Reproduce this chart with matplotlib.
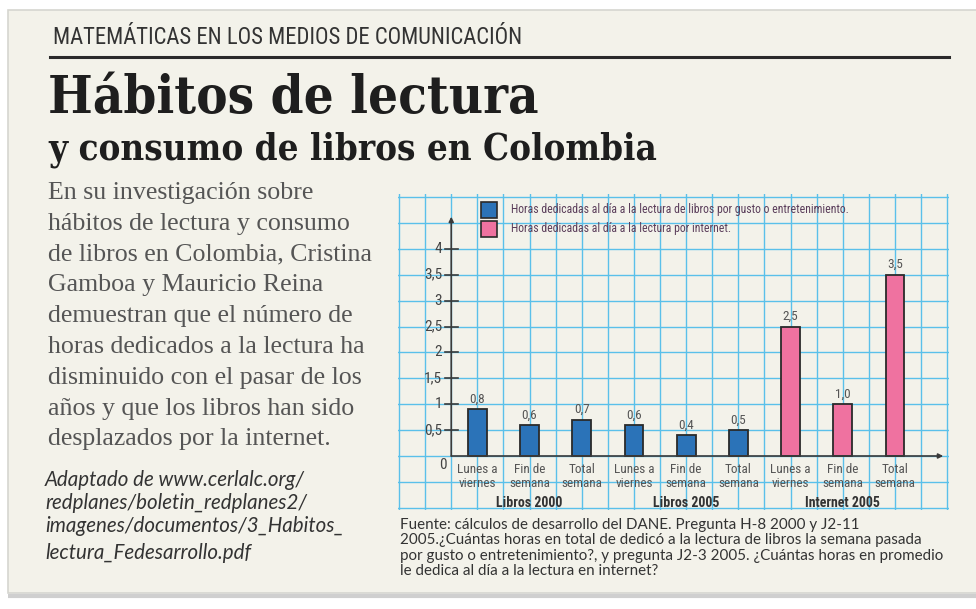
import matplotlib
matplotlib.use("Agg")
import matplotlib.pyplot as plt
from matplotlib import font_manager
from matplotlib.patches import Rectangle

# datos del grafico
categorias = ["Lunes a\nviernes", "Fin de\nsemana", "Total\nsemana"] * 3
grupos = ["Libros 2000", "Libros 2005", "Internet 2005"]
horas = [0.9, 0.6, 0.7, 0.6, 0.4, 0.5, 2.5, 1.0, 3.5]   # altura dibujada
etiquetas = ["0,8", "0,6", "0,7", "0,6", "0,4", "0,5", "2,5", "1,0", "3,5"]
serie = ["libros"] * 6 + ["internet"] * 3
yticks = [0.5, 1, 1.5, 2, 2.5, 3, 3.5, 4]
ytick_labels = ["0,5", "1", "1,5", "2", "2,5", "3", "3,5", "4"]
leyenda = ["Horas dedicadas al día a la lectura de libros por gusto o entretenimiento.",
           "Horas dedicadas al día a la lectura por internet."]

colores = {"libros": "#2b73b8", "internet": "#ef72a0"}
beige = "#f3f2ea"
azul_grid = "#5ac0ea"

nombres = {f.name for f in font_manager.fontManager.ttflist}
narrow = next((n for n in ["Liberation Sans Narrow", "Roboto Condensed", "Open Sans Condensed"]
               if n in nombres), None)
if narrow:
    fn = dict(family=narrow)
else:
    fn = dict(family="DejaVu Sans", fontstretch="condensed")
sans = "Lato" if "Lato" in nombres else "DejaVu Sans"

fig = plt.figure(figsize=(9.76, 6.09), dpi=100)
fig.patch.set_facecolor("white")

# pagina (coordenadas en pixeles)
page = fig.add_axes([0, 0, 1, 1])
page.set_xlim(0, 976)
page.set_ylim(609, 0)
page.axis("off")
page.add_patch(Rectangle((8, 10), 980, 583, facecolor=beige, edgecolor="#d6d6d0", lw=1.2))
page.plot([8, 976], [596, 596], color="#cfcfcf", lw=3, solid_capstyle="butt")

page.text(53, 37, "MATEMÁTICAS EN LOS MEDIOS DE COMUNICACIÓN", fontsize=16.3, color="#333333",
          va="center", ha="left", **fn)
page.plot([50, 949], [57, 57], color="#2a2a2a", lw=2.2)
page.text(48, 113, "Hábitos de lectura", fontsize=37.8, fontweight="bold", color="#1e1e1e",
          family="DejaVu Serif", fontstretch="condensed", va="baseline")
page.text(48, 159, "y consumo de libros en Colombia", fontsize=26.3, fontweight="bold",
          color="#1e1e1e", family="DejaVu Serif", fontstretch="condensed", va="baseline")

cuerpo = ["En su investigación sobre",
          "hábitos de lectura y consumo",
          "de libros en Colombia, Cristina",
          "Gamboa y Mauricio Reina",
          "demuestran que el número de",
          "horas dedicados a la lectura ha",
          "disminuido con el pasar de los",
          "años y que los libros han sido",
          "desplazados por la internet."]
for i, linea in enumerate(cuerpo):
    page.text(48, 193 + i * 30.8, linea, fontsize=18.6, color="#555555",
              family="Liberation Serif", va="center")

fuente_web = ["Adaptado de www.cerlalc.org/", "redplanes/boletin_redplanes2/",
              "imagenes/documentos/3_Habitos_", "lectura_Fedesarrollo.pdf"]
for linea, y in zip(fuente_web, [480, 503, 526, 553]):
    page.text(45, y, linea, fontsize=14.8, style="italic", color="#333333", family=sans,
              va="center")

nota = ["Fuente: cálculos de desarrollo del DANE. Pregunta H-8 2000 y J2-11",
        "2005.¿Cuántas horas en total de dedicó a la lectura de libros la semana pasada",
        "por gusto o entretenimiento?, y pregunta J2-3 2005. ¿Cuántas horas en promedio",
        "le dedica al día a la lectura en internet?"]
for i, linea in enumerate(nota):
    page.text(400, 525 + i * 15.3, linea, fontsize=10.9, color="#333333", family=sans,
              va="center")

# grafico
ax = fig.add_axes([398 / 976, 1 - 509.5 / 609, 551 / 976, 316 / 609])
ax.set_facecolor(beige)
ax.set_xlim(-0.04, 21.07)
ax.set_ylim(-1.033, 5.068)
ax.axis("off")

for gx in range(0, 22):
    ax.axvline(gx, color=azul_grid, lw=1.0, zorder=0)
for k in range(-2, 11):
    ax.axhline(k * 0.5, color=azul_grid, lw=1.0, zorder=0)

x = [3 + 2 * i for i in range(len(horas))]
ax.bar(x, horas, width=0.72, color=[colores[s] for s in serie], edgecolor="#2a2a2a",
       lw=1.3, zorder=3)

for xi, h, lab in zip(x, horas, etiquetas):
    ax.text(xi, h + 0.07, lab, ha="center", va="bottom", fontsize=9.5, color="#555555", **fn)
for xi, cat in zip(x, categorias):
    ax.text(xi, -0.14, cat, ha="center", va="top", fontsize=9.5, color="#555555",
            linespacing=1.05, **fn)
for j, g in enumerate(grupos):
    ax.text(5 + 6 * j, -0.9, g, ha="center", va="center", fontsize=10, fontweight="bold",
            color="#333333", **fn)

# ejes con flechas
eje = "#3a3a3a"
ax.annotate("", xy=(20.85, 0), xytext=(2, 0),
            arrowprops=dict(arrowstyle="-|>", color=eje, lw=1.2, mutation_scale=7,
                            shrinkA=0, shrinkB=0), zorder=4)
ax.annotate("", xy=(2, 4.62), xytext=(2, 0),
            arrowprops=dict(arrowstyle="-|>", color=eje, lw=1.2, mutation_scale=7,
                            shrinkA=0, shrinkB=0), zorder=4)
for v, lab in zip(yticks, ytick_labels):
    ax.plot([1.77, 2.27], [v, v], color=eje, lw=1.2, zorder=4)
    ax.text(1.65, v, lab, ha="right", va="center", fontsize=11, color="#444444", **fn)
ax.text(1.69, -0.17, "0", ha="center", va="center", fontsize=11, color="#444444", **fn)

# leyenda
for j, s in enumerate(["libros", "internet"]):
    ax.add_patch(Rectangle((3.14, 4.59 - j * 0.37), 0.61, 0.31, facecolor=colores[s],
                           edgecolor="#2a2a2a", lw=1.2, zorder=3))
    ax.text(4.29, 4.75 - j * 0.36, leyenda[j], ha="left", va="center", fontsize=8.5,
            color="#5a3d5a", zorder=3, **fn)

fig.savefig("out.png", dpi=100, facecolor=fig.get_facecolor())
